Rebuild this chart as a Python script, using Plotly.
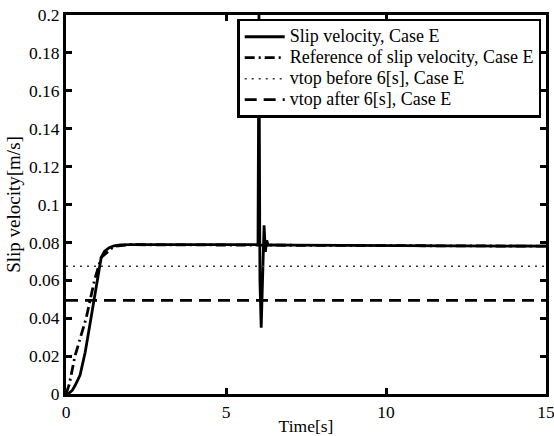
import plotly.graph_objects as go

# Slip velocity, Case E
t_slip = [0, 0.1, 0.2, 0.3, 0.44, 0.6, 0.78, 0.99, 1.1, 1.2, 1.35, 1.5, 1.7, 2.0, 3.0, 4.0, 5.0, 6.0, 6.03, 6.06, 6.1, 6.15, 6.19, 6.23, 6.27, 6.32, 6.4, 7.0, 9.0, 11.0, 13.0, 15.0]
v_slip = [0, 0.0005, 0.002, 0.005, 0.01, 0.022, 0.04, 0.06, 0.072, 0.0752, 0.0772, 0.0782, 0.0787, 0.0788, 0.0788, 0.0788, 0.0788, 0.0788, 0.2, 0.06, 0.035, 0.07, 0.089, 0.075, 0.081, 0.0785, 0.0787, 0.0786, 0.0784, 0.0782, 0.0781, 0.0780]

# Reference of slip velocity, Case E
t_ref = [0, 0.1, 0.28, 0.45, 0.63, 0.89, 1.0, 1.1, 1.5, 2.0, 15.0]
v_ref = [0, 0.005, 0.02, 0.03, 0.04, 0.06, 0.067, 0.072, 0.078, 0.0788, 0.078]

# vtop levels
vtop_before = 0.0674
vtop_after = 0.0494
t_span = [0, 15]

series_names = ["Slip velocity, Case E", "Reference of slip velocity, Case E",
                "vtop before 6[s], Case E", "vtop after 6[s], Case E"]

xticks = [0, 5, 10, 15]
xtick_text = ["0", "5", "10", "15"]
yticks = [0, 0.02, 0.04, 0.06, 0.08, 0.1, 0.12, 0.14, 0.16, 0.18, 0.2]
ytick_text = ["0", "0.02", "0.04", "0.06", "0.08", "0.1", "0.12", "0.14", "0.16", "0.18", "0.2"]

font = "Times New Roman, 'Liberation Serif', serif"


def leg(name):
    return "<span style='font-size:18px'>" + name + "</span>"


fig = go.Figure()
fig.add_trace(go.Scatter(x=t_slip, y=v_slip, mode="lines", name=leg(series_names[0]),
                         line=dict(color="black", width=2.8)))
fig.add_trace(go.Scatter(x=t_ref, y=v_ref, mode="lines", name=leg(series_names[1]),
                         line=dict(color="black", width=2.8, dash="10px,4px,2px,4px")))
fig.add_trace(go.Scatter(x=t_span, y=[vtop_before, vtop_before], mode="lines", name=leg(series_names[2]),
                         line=dict(color="#333333", width=1.5, dash="2px,5px")))
fig.add_trace(go.Scatter(x=t_span, y=[vtop_after, vtop_after], mode="lines", name=leg(series_names[3]),
                         line=dict(color="black", width=2.8, dash="12px,7px")))

axis_common = dict(showline=True, linecolor="black", linewidth=3, mirror="ticks",
                   ticks="inside", ticklen=6, tickwidth=2.5, tickcolor="black",
                   showgrid=False, zeroline=False, automargin=False,
                   ticklabeloverflow="allow",
                   tickfont=dict(family=font, size=17.5, color="black"))

fig.update_xaxes(range=[0, 15], tickvals=xticks, ticktext=xtick_text,
                 title=dict(text="Time[s]", font=dict(family=font, size=17.5, color="black"), standoff=2),
                 **axis_common)
fig.update_yaxes(range=[0, 0.2], tickvals=yticks, ticktext=ytick_text,
                 title=dict(text="Slip velocity[m/s]", font=dict(family=font, size=19, color="black"), standoff=4),
                 **axis_common)

fig.update_layout(
    width=554, height=436,
    margin=dict(l=66, r=8, t=15, b=42),
    paper_bgcolor="white", plot_bgcolor="white",
    font=dict(family=font, size=17.5, color="black"),
    legend=dict(x=0.99, y=0.99, xanchor="right", yanchor="top",
                bgcolor="white", bordercolor="black", borderwidth=2.5,
                font=dict(family=font, size=13.8, color="black"),
                tracegroupgap=0, itemwidth=40),
    showlegend=True,
)

fig.write_html("out.html")
